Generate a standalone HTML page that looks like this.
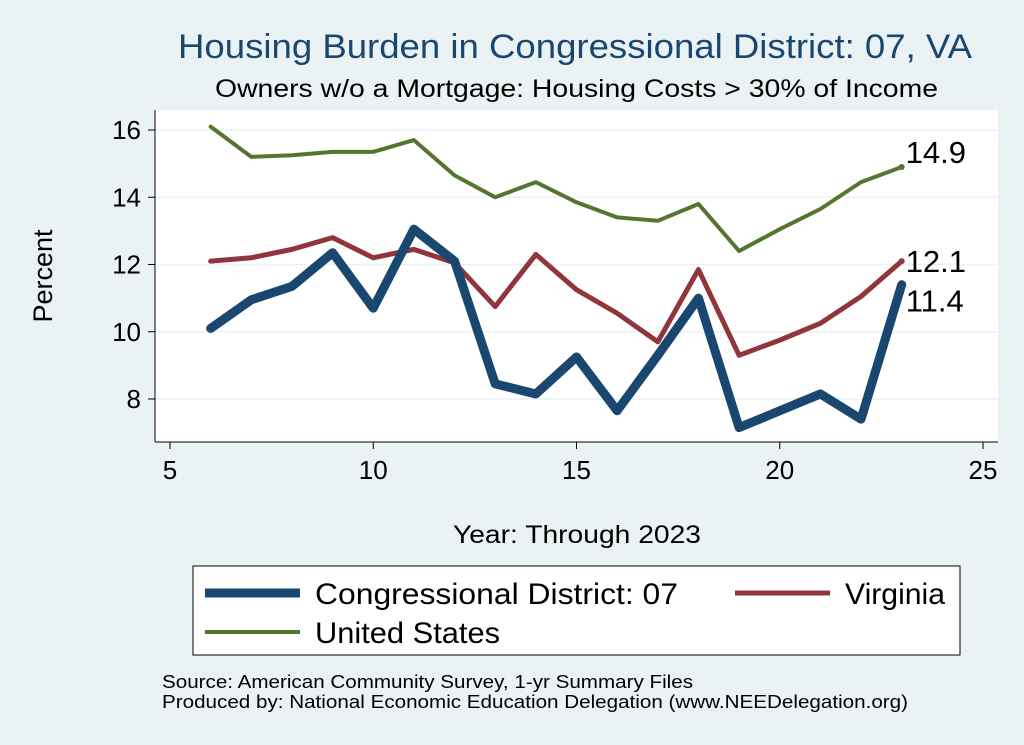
<!DOCTYPE html>
<html><head><meta charset="utf-8"><style>
body{margin:0;background:#eaf2f3;}
svg{display:block;font-family:"Liberation Sans",Arial,sans-serif;}
</style></head><body>
<svg width="1024" height="745">
<rect x="0" y="0" width="1024" height="745" fill="#eaf2f3"/>
<text x="178" y="58" font-size="34" fill="#1a476f" textLength="794" lengthAdjust="spacingAndGlyphs">Housing Burden in Congressional District:  07, VA</text>
<text x="215" y="97" font-size="25" fill="#000" textLength="723" lengthAdjust="spacingAndGlyphs">Owners w/o a Mortgage: Housing Costs &gt; 30% of Income</text>
<rect x="155" y="110" width="843" height="332" fill="#fff"/>
<g id="grid"></g>
<line x1="155" y1="110" x2="155" y2="442" stroke="#000" stroke-width="1"/>
<line x1="155" y1="442" x2="998" y2="442" stroke="#000" stroke-width="1"/>
<g id="axes"></g>
<g id="series"></g>
<text x="52" y="276" font-size="27" text-anchor="middle" transform="rotate(-90 52 276)">Percent</text>
<text x="453" y="543" font-size="25" textLength="248" lengthAdjust="spacingAndGlyphs">Year: Through 2023</text>
<g>
<rect x="193" y="566" width="767" height="89" fill="#fff" stroke="#000" stroke-width="1"/>
<line x1="205" y1="593" x2="300" y2="593" stroke="#1a476f" stroke-width="9"/>
<text x="315" y="604" font-size="30" textLength="363" lengthAdjust="spacingAndGlyphs">Congressional District:  07</text>
<line x1="735" y1="593" x2="830" y2="593" stroke="#90353b" stroke-width="5"/>
<text x="845" y="604" font-size="30" textLength="100" lengthAdjust="spacingAndGlyphs">Virginia</text>
<line x1="205" y1="632" x2="300" y2="632" stroke="#55752f" stroke-width="4"/>
<text x="315" y="643" font-size="30" textLength="185" lengthAdjust="spacingAndGlyphs">United States</text>
</g>
<text x="162" y="688" font-size="18" textLength="531" lengthAdjust="spacingAndGlyphs">Source: American Community Survey, 1-yr Summary Files</text>
<text x="162" y="708" font-size="18" textLength="746" lengthAdjust="spacingAndGlyphs">Produced by: National Economic Education Delegation (www.NEEDelegation.org)</text>
</svg>
<script>
const years=[6,7,8,9,10,11,12,13,14,15,16,17,18,19,20,21,22,23];
const district=[10.1,10.95,11.35,12.35,10.7,13.05,12.1,8.45,8.15,9.25,7.65,9.3,11.0,7.15,7.65,8.15,7.4,11.4];
const virginia=[12.1,12.2,12.45,12.8,12.2,12.45,12.05,10.75,12.3,11.25,10.55,9.7,11.85,9.3,9.75,10.25,11.05,12.1];
const us=[16.1,15.2,15.25,15.35,15.35,15.7,14.65,14.0,14.45,13.85,13.4,13.3,13.8,12.4,13.05,13.65,14.45,14.9];
const xTicks=[5,10,15,20,25];
const yTicks=[8,10,12,14,16];
const NS="http://www.w3.org/2000/svg";
function X(v){return 170+(v-5)*(983-170)/20;}
function Y(v){return 399-(v-8)*(399-130)/8;}
function mk(tag,attrs,parent){const e=document.createElementNS(NS,tag);for(const k in attrs)e.setAttribute(k,attrs[k]);document.getElementById(parent).appendChild(e);return e;}
yTicks.forEach(t=>{
 const g=mk('line',{x1:155,x2:998,y1:Y(t),y2:Y(t),stroke:'#eaf2f3','stroke-width':1.5},'grid');
 
 
 mk('line',{x1:148,x2:155,y1:Y(t),y2:Y(t),stroke:'#000'},'axes');
 const l=mk('text',{x:141,y:Y(t)+9,'font-size':26,'text-anchor':'end'},'axes');
 l.textContent=t;
 
 
});
xTicks.forEach(t=>{
 mk('line',{x1:X(t),x2:X(t),y1:442,y2:449,stroke:'#000'},'axes');
 const l=mk('text',{x:X(t),y:479,'font-size':26,'text-anchor':'middle'},'axes');
 l.textContent=t;
 
 
});
function draw(vals,color,w,name,dy){
 const p=mk('polyline',{points:years.map((y,i)=>X(y)+','+Y(vals[i])).join(' '),fill:'none',stroke:color,'stroke-width':w,'stroke-linejoin':'round','stroke-linecap':'round'},'series');
 
 
 const n=vals.length-1;
 const c=mk('circle',{cx:X(years[n]),cy:Y(vals[n]),r:3,fill:color},'series');
 
 
 const t=mk('text',{x:X(years[n])+4,y:Y(vals[n])+dy,'font-size':31},'series');
 t.textContent=vals[n].toFixed(1);
 
 
}
draw(us,'#55752f',4,'us',-4);
draw(virginia,'#90353b',5,'virginia',11);
draw(district,'#1a476f',9,'district',27);
</script>
</body></html>
